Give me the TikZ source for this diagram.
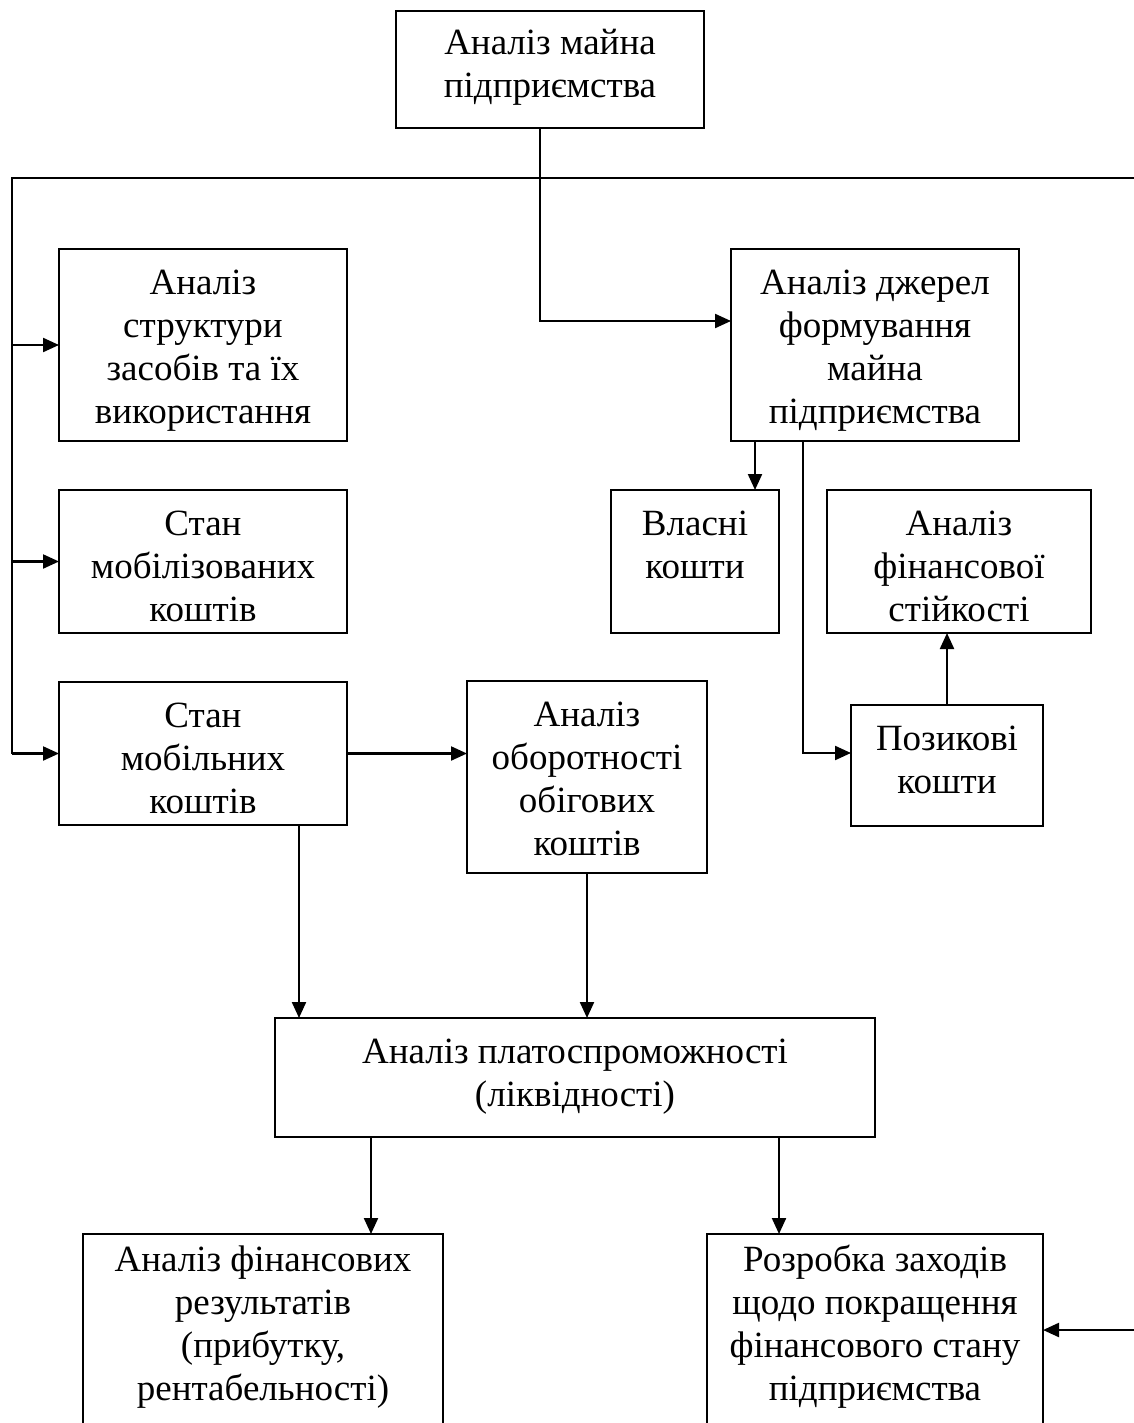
\documentclass[tikz,border=0pt]{standalone}
\usepackage{fontspec}
\setmainfont{Liberation Serif}
\usetikzlibrary{arrows.meta}
\tikzset{
  box/.style={draw, line width=2.2pt, inner sep=0pt, outer sep=0pt},
  txt/.style={font=\fontsize{37}{43}\selectfont, align=center, inner sep=0pt, anchor=north},
  conn/.style={line width=2.2pt},
  arr/.style={conn, -{Triangle[length=16pt,width=14pt]}}
}
\newcommand\boxtext[3][15]{\node[txt] (#2t) at ([yshift=-#1pt]#2.north) {\strut #3};}
\begin{document}
\begin{tikzpicture}[x=1pt,y=-1pt]
\useasboundingbox (0,0) rectangle (1134,1423);
% boxes
\node[box, minimum width=308pt, minimum height=117pt] (top) at (550,69.5) {};
\node[box, minimum width=288pt, minimum height=192pt] (A1) at (203,345) {};
\node[box, minimum width=288pt, minimum height=143pt] (A2) at (203,561.5) {};
\node[box, minimum width=288pt, minimum height=143pt] (A3) at (203,753.5) {};
\node[box, minimum width=240pt, minimum height=192pt] (B) at (587,777) {};
\node[box, minimum width=288pt, minimum height=192pt] (C) at (875,345) {};
\node[box, minimum width=168pt, minimum height=143pt] (V) at (695,561.5) {};
\node[box, minimum width=264pt, minimum height=143pt] (Fin) at (959,561.5) {};
\node[box, minimum width=192pt, minimum height=121pt] (P) at (947,765.5) {};
\node[box, minimum width=600pt, minimum height=119pt] (D) at (575,1077.5) {};
\begin{scope}
\clip (0,0) rectangle (1134,1423);
\node[box, minimum width=360pt, minimum height=216pt] (E) at (263,1342) {};
\node[box, minimum width=336pt, minimum height=216pt] (F) at (875,1342) {};
\end{scope}
% texts
\boxtext[13]{top}{Аналіз майна\\підприємства}
\boxtext{A1}{Аналіз\\структури\\засобів та їх\\використання}
\boxtext{A2}{Стан\\мобілізованих\\коштів}
\boxtext{A3}{Стан\\мобільних\\коштів}
\boxtext{B}{Аналіз\\оборотності\\обігових\\коштів}
\boxtext{C}{Аналіз джерел\\формування\\майна\\підприємства}
\boxtext{V}{Власні\\кошти}
\boxtext{Fin}{Аналіз\\фінансової\\стійкості}
\boxtext{P}{Позикові\\кошти}
\boxtext{D}{Аналіз платоспроможності\\(ліквідності)}
\boxtext[7]{E}{Аналіз фінансових\\результатів\\(прибутку,\\рентабельності)}
\boxtext[7]{F}{Розробка заходів\\щодо покращення\\фінансового стану\\підприємства}
% connectors
\coordinate (L0) at (12,178);
\coordinate (R0) at (1134,178);
\coordinate (R1) at (1134,1330);
\draw[conn] (R0) -- (L0) -- (L0 |- A3.west);
\draw[arr] (L0 |- A1.west) -- (A1.west);
\draw[arr] (L0 |- A2.west) -- (A2.west);
\draw[arr] (L0 |- A3.west) -- (A3.west);
\draw[arr] (top.south -| 540,0) |- (C.west |- 0,321);
\draw[arr] (A3.east) -- (A3.east -| B.west);
\draw[arr] (C.south -| 755,0) -- (V.north -| 755,0);
\draw[arr] (C.south -| 803,0) |- (P.west |- 0,753);
\draw[arr] (P.north) -- (P.north |- Fin.south);
\draw[arr] (A3.south -| 299,0) -- (D.north -| 299,0);
\draw[arr] (B.south) -- (B.south |- D.north);
\draw[arr] (D.south -| 371,0) -- (E.north -| 371,0);
\draw[arr] (D.south -| 779,0) -- (F.north -| 779,0);
\draw[arr] (R1) -- (F.east |- R1);
\end{tikzpicture}
\end{document}
